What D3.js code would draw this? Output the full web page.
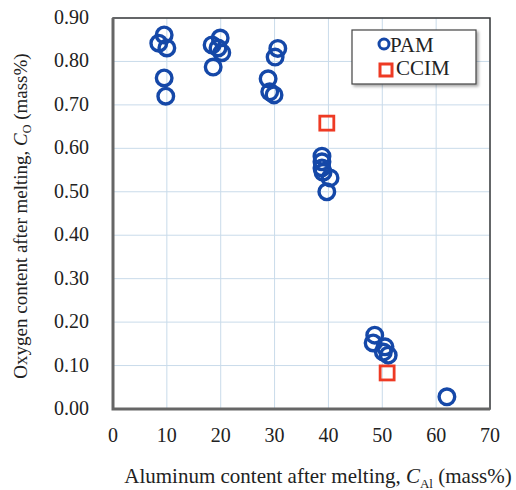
<!DOCTYPE html>
<html>
<head>
<meta charset="utf-8">
<script src="https://cdn.jsdelivr.net/npm/d3@7"></script>
<style>
  body { margin: 0; background: #fff; }
  svg { display: block; font-family: "Liberation Serif", "DejaVu Serif", serif; }
  svg text { font-family: "Liberation Serif", "DejaVu Serif", serif; }
</style>
</head>
<body>
<script>
"use strict";

// PAM points (Al mass%, O mass%)
var pamAl = [8.5, 9.5, 10.0, 9.5, 9.8,
             18.4, 19.9, 19.5, 20.2, 18.6,
             30.6, 30.1, 28.8, 29.1, 29.9,
             38.8, 38.8, 38.8, 39.0, 40.3, 39.7,
             48.6, 48.3, 50.5, 50.2, 51.1,
             62.0];
var pamO = [0.842, 0.861, 0.831, 0.762, 0.720,
            0.838, 0.854, 0.831, 0.820, 0.787,
            0.830, 0.810, 0.760, 0.730, 0.723,
            0.582, 0.569, 0.555, 0.545, 0.532, 0.500,
            0.170, 0.152, 0.143, 0.131, 0.124,
            0.028];
// CCIM points
var ccimAl = [39.7, 50.9];
var ccimO = [0.658, 0.083];

var xTicks = [0, 10, 20, 30, 40, 50, 60, 70];
var yTicks = [0, 0.1, 0.2, 0.3, 0.4, 0.5, 0.6, 0.7, 0.8, 0.9];

var width = 516, height = 490;
var margin = {top: 18, right: 26, bottom: 81, left: 113};
var w = width - margin.left - margin.right,
    h = height - margin.top - margin.bottom;

var svg = d3.select("body").append("svg").attr("width", width).attr("height", height);

var defs = svg.append("defs");
var f = defs.append("filter").attr("id", "shadow").attr("x", "-10%").attr("y", "-10%").attr("width", "130%").attr("height", "140%");
f.append("feDropShadow").attr("dx", 2).attr("dy", 2).attr("stdDeviation", 1.5).attr("flood-color", "#000").attr("flood-opacity", 0.35);

var g = svg.append("g").attr("transform", "translate(" + margin.left + "," + margin.top + ")");

var x = d3.scaleLinear().domain([0, 70]).range([0, w]);
var y = d3.scaleLinear().domain([0, 0.9]).range([h, 0]);

//Grid
g.append("g").selectAll("line").data(xTicks).enter().append("line")
  .attr("x1", function (d) { return x(d); }).attr("x2", function (d) { return x(d); })
  .attr("y1", 0).attr("y2", h).attr("stroke", "#c9dbea").attr("stroke-width", 1);
g.append("g").selectAll("line").data(yTicks).enter().append("line")
  .attr("y1", function (d) { return y(d); }).attr("y2", function (d) { return y(d); })
  .attr("x1", 0).attr("x2", w).attr("stroke", "#c9dbea").attr("stroke-width", 1);

//Frame
g.append("rect").attr("width", w).attr("height", h).attr("fill", "none")
  .attr("stroke", "#3a3a3a").attr("stroke-width", 1.5);
g.append("path").attr("d", "M0,0V" + h + "H" + w).attr("fill", "none")
  .attr("stroke", "#666").attr("stroke-width", 3);

//Tick labels
g.append("g").selectAll("text").data(xTicks).enter().append("text")
  .attr("x", function (d) { return x(d); }).attr("y", h + 33)
  .attr("text-anchor", "middle").style("font-size", "20px").attr("fill", "#222")
  .text(d3.format("d"));
g.append("g").selectAll("text").data(yTicks).enter().append("text")
  .attr("x", -24).attr("y", function (d) { return y(d) + 6; })
  .attr("text-anchor", "end").style("font-size", "20px").attr("fill", "#222")
  .text(d3.format(".2f"));

//Points
g.append("g").selectAll("circle").data(pamAl).enter().append("circle")
  .attr("cx", function (d) { return x(d); })
  .attr("cy", function (d, i) { return y(pamO[i]); })
  .attr("r", 7.8).attr("fill", "none").attr("stroke", "#1548a8").attr("stroke-width", 3.4);

var sq = 14;
g.append("g").selectAll("rect").data(ccimAl).enter().append("rect")
  .attr("x", function (d) { return x(d) - sq / 2; })
  .attr("y", function (d, i) { return y(ccimO[i]) - sq / 2; })
  .attr("width", sq).attr("height", sq)
  .attr("fill", "none").attr("stroke", "#ee3a24").attr("stroke-width", 2.8);

//Legend
var legend = svg.append("g").attr("transform", "translate(352,30)");
legend.append("rect").attr("width", 124).attr("height", 54).attr("fill", "#fff")
  .attr("stroke", "#444").attr("stroke-width", 1.2).attr("filter", "url(#shadow)");
legend.append("circle").attr("cx", 32).attr("cy", 14).attr("r", 5)
  .attr("fill", "none").attr("stroke", "#1548a8").attr("stroke-width", 3);
legend.append("text").attr("x", 38).attr("y", 22).style("font-size", "21px").attr("fill", "#222").text("PAM");
legend.append("rect").attr("x", 28).attr("y", 34).attr("width", 12).attr("height", 12)
  .attr("fill", "none").attr("stroke", "#ee3a24").attr("stroke-width", 3);
legend.append("text").attr("x", 44).attr("y", 45).style("font-size", "21px").attr("fill", "#222").text("CCIM");

//Axis titles
var xt = svg.append("text").attr("x", 318).attr("y", 483).attr("text-anchor", "middle")
  .style("font-size", "21px").attr("fill", "#222");
xt.append("tspan").text("Aluminum content after melting, ");
xt.append("tspan").style("font-style", "italic").text("C");
xt.append("tspan").attr("dy", 5).style("font-size", "13px").text("Al");
xt.append("tspan").attr("dy", -5).text(" (mass%)");

var yt = svg.append("text").attr("transform", "translate(27,216) rotate(-90)").attr("text-anchor", "middle")
  .style("font-size", "19px").attr("fill", "#222");
yt.append("tspan").text("Oxygen content after melting, ");
yt.append("tspan").style("font-style", "italic").text("C");
yt.append("tspan").attr("dy", 4).style("font-size", "12px").text("O");
yt.append("tspan").attr("dy", -4).text(" (mass%)");
</script>
</body>
</html>
